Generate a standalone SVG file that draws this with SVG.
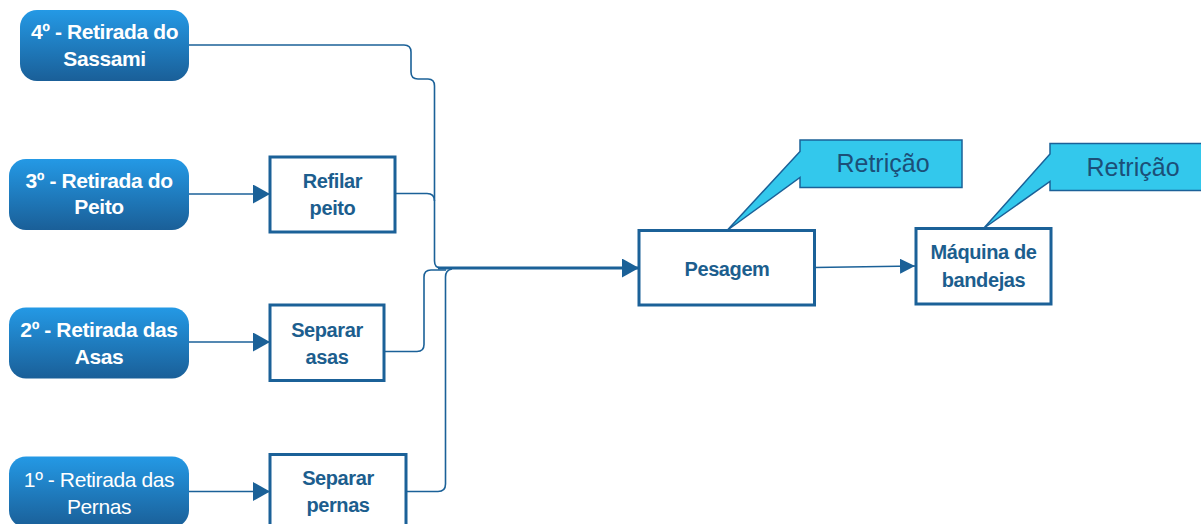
<svg xmlns="http://www.w3.org/2000/svg" width="1201" height="524" viewBox="0 0 1201 524">
  <style>
    .stage { stroke: none; fill: url(#stageFill); }
    .stage-text { font-family: "Liberation Sans", Arial, sans-serif; font-size: 21px; font-weight: bold; fill: #ffffff; text-anchor: middle; letter-spacing: -0.4px; }
    .stage-text.light { font-weight: normal; }
    .box { fill: #ffffff; stroke: #1b6198; stroke-width: 3; }
    .box-text { font-family: "Liberation Sans", Arial, sans-serif; font-size: 20px; font-weight: bold; fill: #1c5e8e; text-anchor: middle; letter-spacing: -0.4px; }
    .wire { fill: none; stroke: #1b6198; stroke-width: 1.6; }
    .wire.main { stroke-width: 3; }
    .note { fill: #33c8ec; stroke: #1b6198; stroke-width: 1.5; stroke-linejoin: miter; }
    .note-text { font-family: "Liberation Sans", Arial, sans-serif; font-size: 25px; fill: #1c4f78; text-anchor: middle; }
  </style>
  <defs>
    <linearGradient id="stageFill" x1="0" y1="0" x2="0" y2="1">
      <stop offset="0" stop-color="#2499e5"/>
      <stop offset="1" stop-color="#1a5f98"/>
    </linearGradient>
    <marker id="head" markerUnits="userSpaceOnUse" markerWidth="18" markerHeight="20" refX="17" refY="9.5" orient="auto">
      <path d="M0,0 L17,9.5 L0,19 Z" fill="#1b6198"/>
    </marker>
    <marker id="headSmall" markerUnits="userSpaceOnUse" markerWidth="16" markerHeight="16" refX="15" refY="7.5" orient="auto">
      <path d="M0,0 L15,7.5 L0,15 Z" fill="#1b6198"/>
    </marker>
  </defs>

  <rect width="1201" height="524" fill="#ffffff"/>

  <!-- connectors -->
  <g id="connectors">
    <path class="wire" d="M189,45 H404 Q411,45 411,52 V72 Q411,79 418,79 H428 Q434.5,79 434.5,86 V261 Q434.5,268 441,268"/>
    <path class="wire" d="M395,193.5 H427 Q434.5,193.5 434.5,201"/>
    <path class="wire" d="M384,351.5 H417 Q424,351.5 424,344.5 V277 Q424,270 431,270 H446"/>
    <path class="wire" d="M406,491.5 H438 Q445.5,491.5 445.5,484 V277 Q445.5,270 452,269"/>
    <path class="wire main" d="M438,268 H639" marker-end="url(#head)"/>
    <path class="wire" d="M189,194 H270" marker-end="url(#head)"/>
    <path class="wire" d="M189,342 H270" marker-end="url(#head)"/>
    <path class="wire" d="M189,491.5 H270" marker-end="url(#head)"/>
    <path class="wire" d="M814,267.5 L915,266" marker-end="url(#headSmall)"/>
  </g>

  <!-- stage nodes -->
  <g id="stage4">
    <rect class="stage" x="20" y="10" width="169" height="71" rx="17"/>
    <text class="stage-text" x="104.5" y="39">4º - Retirada do</text>
    <text class="stage-text" x="104.5" y="65.5">Sassami</text>
  </g>
  <g id="stage3">
    <rect class="stage" x="9" y="159" width="180" height="71" rx="17"/>
    <text class="stage-text" x="99" y="187.5">3º - Retirada do</text>
    <text class="stage-text" x="99" y="214">Peito</text>
  </g>
  <g id="stage2">
    <rect class="stage" x="9" y="307.5" width="180" height="71" rx="17"/>
    <text class="stage-text" x="99" y="336.5">2º - Retirada das</text>
    <text class="stage-text" x="99" y="364">Asas</text>
  </g>
  <g id="stage1">
    <rect class="stage" x="9" y="456.5" width="180" height="71" rx="17"/>
    <text class="stage-text light" x="99" y="486.5">1º - Retirada das</text>
    <text class="stage-text light" x="99" y="513.5">Pernas</text>
  </g>

  <!-- process boxes -->
  <g id="refilar">
    <rect class="box" x="270" y="157" width="125" height="75"/>
    <text class="box-text" x="332.5" y="187.5">Refilar</text>
    <text class="box-text" x="332.5" y="214.5">peito</text>
  </g>
  <g id="separar-asas">
    <rect class="box" x="270" y="305" width="114" height="75.5"/>
    <text class="box-text" x="327" y="336.5">Separar</text>
    <text class="box-text" x="327" y="364">asas</text>
  </g>
  <g id="separar-pernas">
    <rect class="box" x="270" y="454.5" width="136" height="75"/>
    <text class="box-text" x="338" y="485">Separar</text>
    <text class="box-text" x="338" y="511.5">pernas</text>
  </g>
  <g id="pesagem">
    <rect class="box" x="639" y="230.5" width="175.5" height="74.5"/>
    <text class="box-text" x="727" y="275.5">Pesagem</text>
  </g>
  <g id="maquina">
    <rect class="box" x="916" y="228.5" width="135" height="75.5"/>
    <text class="box-text" x="983.5" y="258.5">Máquina de</text>
    <text class="box-text" x="983.5" y="286.5">bandejas</text>
  </g>

  <!-- constraint callouts -->
  <g id="restricao1">
    <path class="note" d="M800,140 H962 V187.5 H800 V177.5 L727,230.5 L800,151.5 Z"/>
    <text class="note-text" x="883" y="172">Retrição</text>
  </g>
  <g id="restricao2">
    <path class="note" d="M1050,143.5 H1203 V190.5 H1050 V181.5 L983.5,228.5 L1050,154 Z"/>
    <text class="note-text" x="1133" y="175.5">Retrição</text>
  </g>
</svg>
